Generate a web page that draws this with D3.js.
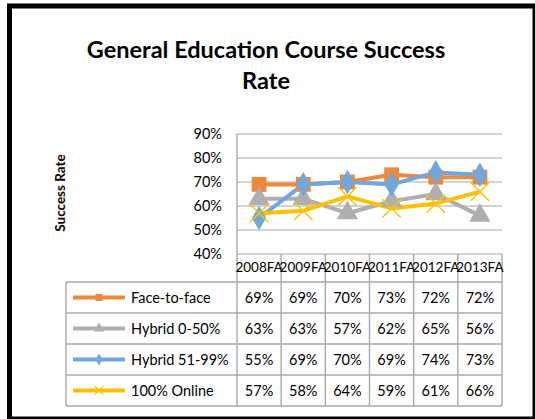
<!DOCTYPE html>
<html>
<head>
<meta charset="utf-8">
<script src="https://cdn.jsdelivr.net/npm/d3@7"></script>
<style>
  body { margin: 0; background: #fff; }
  svg { display: block; font-family: Lato, "Open Sans", sans-serif; }
</style>
</head>
<body>
<svg id="chart" width="535" height="419"></svg>
<script>
// data
const categories = ['2008FA', '2009FA', '2010FA', '2011FA', '2012FA', '2013FA']
const seriesNames = ['Face-to-face', 'Hybrid 0-50%', 'Hybrid 51-99%', '100% Online']
const faceToFace = [0.69, 0.69, 0.70, 0.73, 0.72, 0.72]
const hybridLow = [0.63, 0.63, 0.57, 0.62, 0.65, 0.56]
const hybridHigh = [0.55, 0.69, 0.70, 0.69, 0.74, 0.73]
const online = [0.57, 0.58, 0.64, 0.59, 0.61, 0.66]
const yTicks = [0.4, 0.5, 0.6, 0.7, 0.8, 0.9]

const colors = ['#F0883C', '#AFAFAF', '#6FA8DC', '#FFC000']
const markers = ['square', 'triangle', 'diamond', 'cross']

const series = seriesNames.map((name, i) => ({
  name: name,
  values: [faceToFace, hybridLow, hybridHigh, online][i],
  color: colors[i],
  marker: markers[i]
}))

const svg = d3.select('#chart')

// frame
svg.append('rect')
  .attr('x', 9.5).attr('y', 6)
  .attr('width', 525.5).attr('height', 413)
  .attr('fill', 'none').attr('stroke', '#000').attr('stroke-width', 5)

// title
const title = svg.append('text')
  .attr('text-anchor', 'middle')
  .attr('font-weight', 'bold')
  .attr('font-size', 23.5)
  .attr('fill', '#000')
title.append('tspan').attr('x', 266).attr('y', 58).text('General Education Course Success')
title.append('tspan').attr('x', 266).attr('y', 89).text('Rate')

// plot area
const plotL = 237, plotR = 502, plotT = 134, plotB = 254
const tableL = 66, tableT = 282, rowH = 31
const tableB = tableT + rowH * series.length

const x = d3.scaleBand().domain(categories).range([plotL, plotR])
const y = d3.scaleLinear().domain([0.4, 0.9]).range([plotB, plotT])

const gridColor = '#A8A8A8'

// horizontal gridlines
svg.append('g').selectAll('line').data(yTicks).join('line')
  .attr('x1', plotL).attr('x2', plotR)
  .attr('y1', d => y(d)).attr('y2', d => y(d))
  .attr('stroke', gridColor).attr('stroke-width', 1.2)

// y axis line through the table
svg.append('line')
  .attr('x1', plotL).attr('x2', plotL)
  .attr('y1', plotT).attr('y2', tableB)
  .attr('stroke', gridColor).attr('stroke-width', 1.4)

// category separators running down into the table
svg.append('g').selectAll('line').data(categories).join('line')
  .attr('x1', d => x(d) + x.bandwidth()).attr('x2', d => x(d) + x.bandwidth())
  .attr('y1', plotB).attr('y2', tableB)
  .attr('stroke', gridColor).attr('stroke-width', 1.4)

// y tick labels
svg.append('g').selectAll('text').data(yTicks).join('text')
  .attr('x', 222).attr('y', d => y(d) + 5)
  .attr('text-anchor', 'end')
  .attr('font-size', 14.5)
  .text(d3.format('.0%'))

// y axis title
svg.append('text')
  .attr('transform', 'translate(65,193) rotate(-90)')
  .attr('text-anchor', 'middle')
  .attr('font-weight', 'bold')
  .attr('font-size', 13.5)
  .text('Success Rate')

// category labels
svg.append('g').selectAll('text').data(categories).join('text')
  .attr('x', d => x(d) + x.bandwidth() / 2).attr('y', 272)
  .attr('text-anchor', 'middle')
  .attr('font-size', 13.5)
  .text(d => d)

// table rows
const rows = d3.range(series.length + 1)
svg.append('g').selectAll('line').data(rows).join('line')
  .attr('x1', tableL).attr('x2', plotR)
  .attr('y1', d => tableT + d * rowH).attr('y2', d => tableT + d * rowH)
  .attr('stroke', gridColor).attr('stroke-width', 1.4)
svg.append('line')
  .attr('x1', tableL).attr('x2', tableL)
  .attr('y1', tableT).attr('y2', tableB)
  .attr('stroke', gridColor).attr('stroke-width', 1.4)

const symbolFor = (m, size) => {
  if (m === 'square') return d3.symbol(d3.symbolSquare, size)()
  if (m === 'triangle') return d3.symbol(d3.symbolTriangle, size * 0.9)()
  if (m === 'diamond') return d3.symbol(d3.symbolDiamond, size * 0.8)()
  return d3.symbol(d3.symbolTimes, size)()
}

const drawMarker = (g, s, cx, cy, size) => {
  const p = g.append('path')
    .attr('d', symbolFor(s.marker, size))
    .attr('transform', `translate(${cx},${cy})`)
  if (s.marker === 'cross') {
    p.attr('fill', 'none').attr('stroke', s.color).attr('stroke-width', size > 100 ? 1.4 : 1.2)
  } else {
    p.attr('fill', s.color)
  }
}

const line = d3.line()
  .x((d, i) => x(categories[i]) + x.bandwidth() / 2)
  .y(d => y(d))

// lines
svg.append('g').selectAll('path').data(series).join('path')
  .attr('d', d => line(d.values))
  .attr('fill', 'none')
  .attr('stroke', d => d.color)
  .attr('stroke-width', 4)
  .attr('stroke-linejoin', 'round')

// markers on top
const markG = svg.append('g')
series.forEach(s => {
  s.values.forEach((v, i) => {
    drawMarker(markG, s, x(categories[i]) + x.bandwidth() / 2, y(v), 220)
  })
})

// legend cells + values
series.forEach((s, r) => {
  const cy = tableT + r * rowH + rowH / 2
  svg.append('line')
    .attr('x1', 73).attr('x2', 125)
    .attr('y1', cy).attr('y2', cy)
    .attr('stroke', s.color).attr('stroke-width', 4)
  drawMarker(svg, s, 99, cy, 50)
  svg.append('text')
    .attr('x', 131).attr('y', cy + 5)
    .attr('font-size', 14.5)
    .text(s.name)
  svg.append('g').selectAll('text').data(s.values).join('text')
    .attr('x', (d, i) => x(categories[i]) + x.bandwidth() / 2)
    .attr('y', cy + 5)
    .attr('text-anchor', 'middle')
    .attr('font-size', 14.5)
    .text(d3.format('.0%'))
})
</script>
</body>
</html>
